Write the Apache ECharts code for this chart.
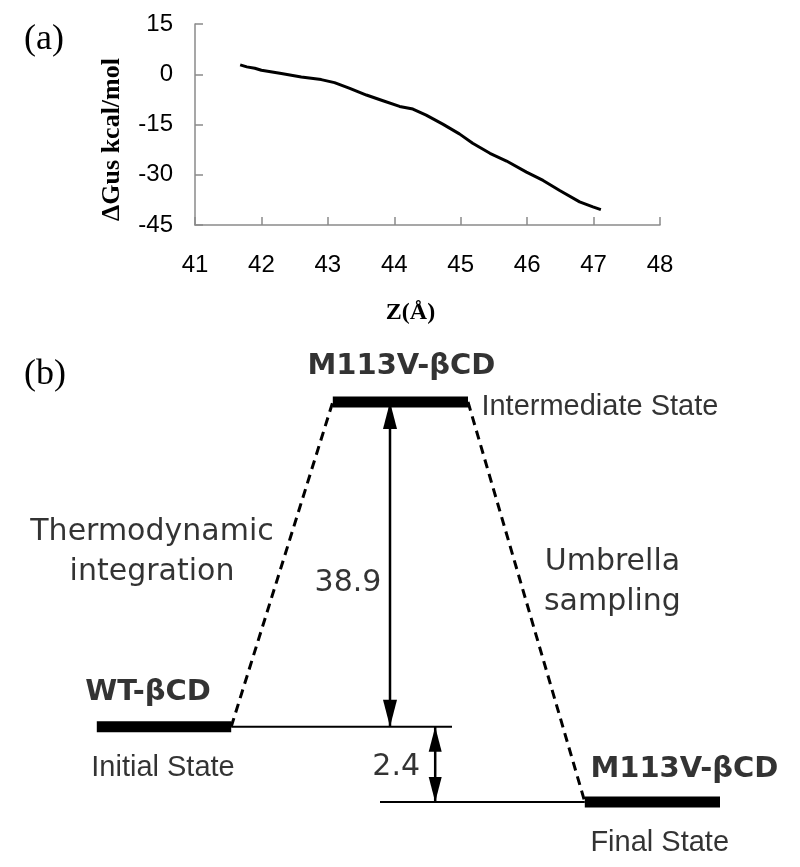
<!DOCTYPE html>
<html>
<head>
<meta charset="utf-8">
<script src="https://cdn.jsdelivr.net/npm/echarts@6/dist/echarts.min.js"></script>
<style>
  html, body { margin: 0; padding: 0; background: #fff; }
  #chart { width: 800px; height: 867px; }
</style>
</head>
<body>
<div id="chart"></div>
<script>
// (a) free energy along Z
const zPos = [41.68, 41.78, 41.9, 42.0, 42.3, 42.6, 42.9, 43.1, 43.33, 43.58, 43.83, 44.08, 44.28, 44.48, 44.73, 44.98, 45.18, 45.44, 45.69, 45.99, 46.24, 46.49, 46.79, 46.99, 47.11]
const dGus = [2.8, 2.2, 1.8, 1.2, 0.2, -0.8, -1.6, -2.5, -4.2, -6.2, -7.9, -9.6, -10.4, -12.2, -14.9, -17.8, -20.6, -23.6, -25.9, -29.2, -31.7, -34.7, -38.1, -39.6, -40.4]
const zTicks = [41, 42, 43, 44, 45, 46, 47, 48]
const gTicks = [-45, -30, -15, 0, 15]

// (b) schematic cycle, heights not to scale
const stateNames = ['WT-βCD', 'M113V-βCD', 'M113V-βCD']
const stateLabels = ['Initial State', 'Intermediate State', 'Final State']
const levelStart = [12.1, 41.6, 73.1]
const levelEnd = [28.9, 58.5, 90]
const levelHeight = [0, 38.9, -9]
const guideLevel = [0, 2]
const guideFrom = [28.9, 47.5]
const guideTo = [56.5, 73.1]
const arrowX = [48.75, 54.4]
const arrowFrom = [1, 0]
const arrowTo = [0, 2]
const gapValues = ['38.9', '2.4']
const pathNames = ['Thermodynamic\nintegration', 'Umbrella\nsampling']

const chart = echarts.init(document.getElementById('chart'))

const sans = 'DejaVu Sans'
const arial = 'Liberation Sans'
const serif = 'Liberation Serif'

// label placement, pixels from anchor
const nameLayout = [
	{ offset: [-16, -34], align: 'center' },
	{ offset: [1, -35], align: 'center' },
	{ offset: [-62, -32], align: 'left' }
]
const stateLayout = [
	{ offset: [-1, 41], align: 'center' },
	{ offset: [81, 5], align: 'left' },
	{ offset: [-62, 41], align: 'left' }
]
const pathLayout = [[-130, -12], [86, -20]]
const gapLayout = [[-42, 19], [-39, 3]]

let series = []

series.push({
	type: 'line', xAxisIndex: 0, yAxisIndex: 0,
	data: zPos.map((z, i) => [z, dGus[i]]),
	showSymbol: false,
	lineStyle: { color: '#000', width: 3 }
})

// dashed paths between levels
for (let i = 0; i < 2; i++) {
	series.push({
		type: 'line', xAxisIndex: 1, yAxisIndex: 1, z: 2,
		data: [[levelEnd[i], levelHeight[i]], [levelStart[i + 1], levelHeight[i + 1]]],
		showSymbol: false,
		lineStyle: { color: '#000', width: 3, type: [9, 6] }
	})
}

// thin guide lines
for (let i = 0; i < guideLevel.length; i++) {
	series.push({
		type: 'line', xAxisIndex: 1, yAxisIndex: 1, z: 2,
		data: [[guideFrom[i], levelHeight[guideLevel[i]]], [guideTo[i], levelHeight[guideLevel[i]]]],
		showSymbol: false,
		lineStyle: { color: '#000', width: 2 }
	})
}

// double arrows
const headSize = [[14, 27], [13, 25]]
for (let i = 0; i < arrowX.length; i++) {
	const y1 = levelHeight[arrowFrom[i]], y2 = levelHeight[arrowTo[i]]
	series.push({
		type: 'line', xAxisIndex: 1, yAxisIndex: 1, z: 3,
		symbol: 'triangle', symbolSize: headSize[i],
		itemStyle: { color: '#000' },
		lineStyle: { color: '#000', width: 2.5 },
		data: [
			{ value: [arrowX[i], y1], symbolOffset: [0, '50%'] },
			{ value: [arrowX[i], y2], symbolRotate: 180, symbolOffset: [0, '-50%'] }
		]
	})
}

// level bars
for (let i = 0; i < levelHeight.length; i++) {
	series.push({
		type: 'line', xAxisIndex: 1, yAxisIndex: 1, z: 5,
		data: [[levelStart[i], levelHeight[i]], [levelEnd[i], levelHeight[i]]],
		showSymbol: false,
		lineStyle: { color: '#000', width: 11, cap: 'butt' }
	})
}

const labelBase = { show: true, position: 'inside', color: '#000', textBorderWidth: 0 }

function textSeries(items) {
	return {
		type: 'scatter', xAxisIndex: 1, yAxisIndex: 1, symbolSize: 0, silent: true, z: 6,
		label: { show: true, color: '#000' },
		data: items
	}
}

series.push(textSeries(levelHeight.map((h, i) => ({
	value: [(levelStart[i] + levelEnd[i]) / 2, h],
	label: Object.assign({}, labelBase, nameLayout[i], {
		formatter: stateNames[i], fontFamily: sans, fontWeight: 'bold', fontSize: 29
	})
}))))

series.push(textSeries(levelHeight.map((h, i) => ({
	value: [(levelStart[i] + levelEnd[i]) / 2, h],
	label: Object.assign({}, labelBase, stateLayout[i], {
		formatter: stateLabels[i], fontFamily: arial, fontSize: 29
	})
}))))

series.push(textSeries(pathNames.map((t, i) => ({
	value: [(levelEnd[i] + levelStart[i + 1]) / 2, (levelHeight[i] + levelHeight[i + 1]) / 2],
	label: Object.assign({}, labelBase, {
		offset: pathLayout[i], align: 'center', formatter: t,
		fontFamily: sans, fontSize: 30, lineHeight: 40
	})
}))))

series.push(textSeries(gapValues.map((t, i) => ({
	value: [arrowX[i], (levelHeight[arrowFrom[i]] + levelHeight[arrowTo[i]]) / 2],
	label: Object.assign({}, labelBase, {
		offset: gapLayout[i], align: 'center', formatter: t,
		fontFamily: sans, fontSize: 30
	})
}))))

const axisGray = '#8a8a8a'

const option = {
	animation: false,
	backgroundColor: '#fff',
	title: [
		{ text: '(a)', left: 24, top: 22, padding: 0, textStyle: { fontFamily: serif, fontSize: 36, fontWeight: 'normal', color: '#000' } },
		{ text: '(b)', left: 24, top: 357, padding: 0, textStyle: { fontFamily: serif, fontSize: 36, fontWeight: 'normal', color: '#000' } }
	],
	grid: [
		{ left: 195, right: 140, top: 24, height: 201, outerBoundsMode: 'none' },
		{ left: 0, right: 0, top: 351, bottom: 15, outerBoundsMode: 'none' }
	],
	xAxis: [
		{
			type: 'value', gridIndex: 0, min: zTicks[0], max: zTicks[zTicks.length - 1], interval: 1,
			name: 'Z(Å)', nameLocation: 'middle', nameGap: 76,
			nameTextStyle: { fontFamily: serif, fontWeight: 'bold', fontSize: 24, color: '#000', padding: [0, 34, 0, 0] },
			axisLine: { onZero: false, lineStyle: { color: axisGray, width: 1.5 } },
			axisTick: { inside: true, length: 8, lineStyle: { color: axisGray, width: 1.5 } },
			axisLabel: { margin: 28, fontFamily: arial, fontSize: 24, color: '#000' },
			splitLine: { show: false }
		},
		{ type: 'value', gridIndex: 1, min: 0, max: 100, show: false }
	],
	yAxis: [
		{
			type: 'value', gridIndex: 0, min: gTicks[0], max: gTicks[gTicks.length - 1], interval: 15,
			name: 'ΔGus kcal/mol', nameLocation: 'middle', nameGap: 70,
			nameTextStyle: { fontFamily: serif, fontWeight: 'bold', fontSize: 26, color: '#000', padding: [0, 30, 0, 0] },
			axisLine: { show: true, lineStyle: { color: axisGray, width: 1.5 } },
			axisTick: { show: true, inside: true, length: 8, lineStyle: { color: axisGray, width: 1.5 } },
			axisLabel: { margin: 22, fontFamily: arial, fontSize: 24, color: '#000' },
			splitLine: { show: false }
		},
		{ type: 'value', gridIndex: 1, min: -15, max: 45, show: false }
	],
	series: series
}

chart.setOption(option)
</script>
</body>
</html>
